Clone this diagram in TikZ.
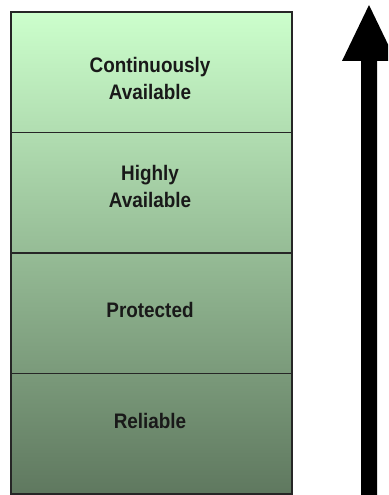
\documentclass[tikz,border=0pt]{standalone}
\usepackage{fontspec}
\setmainfont{Liberation Sans}
\newfontfamily\tierfont[FakeStretch=0.9]{Liberation Sans}
\begin{document}
\begin{tikzpicture}[x=1pt,y=-1pt,
  tier/.style={draw=black!85,line width=1.6pt,minimum width=281pt,minimum height=120.5pt,inner sep=0pt,outer sep=0pt},
  label/.style={align=center,font=\tierfont\bfseries\fontsize{21}{27}\selectfont,text=black!90,inner sep=0pt}]
  \definecolor{tiertop}{RGB}{204,255,204}
  \definecolor{tierbottom}{RGB}{95,120,95}
  \clip (0,0) rectangle (388,495);
  \useasboundingbox (0,0) rectangle (388,495);
  % one continuous shading behind the four tiers
  \shade[top color=tiertop,bottom color=tierbottom] (11,12) rectangle (292,494);
  % tiers, top to bottom
  \node[tier] (t1) at (151.5,72.25) {};
  \node[tier] (t2) at (151.5,192.75) {};
  \node[tier] (t3) at (151.5,313.25) {};
  \node[tier] (t4) at (151.5,433.75) {};
  \node[label] (l1) at (150,78) {Continuously\\Available};
  \node[label] (l2) at (150,186) {Highly\\Available};
  \node[label] (l3) at (150,310) {Protected};
  \node[label] (l4) at (150,421) {Reliable};
  % upward arrow beside the tiers
  \fill[black] (361,496) -- (361,61) -- (342,61) -- (369,5) -- (396,61)
    -- (377,61) -- (377,496) -- cycle;
\end{tikzpicture}
\end{document}
